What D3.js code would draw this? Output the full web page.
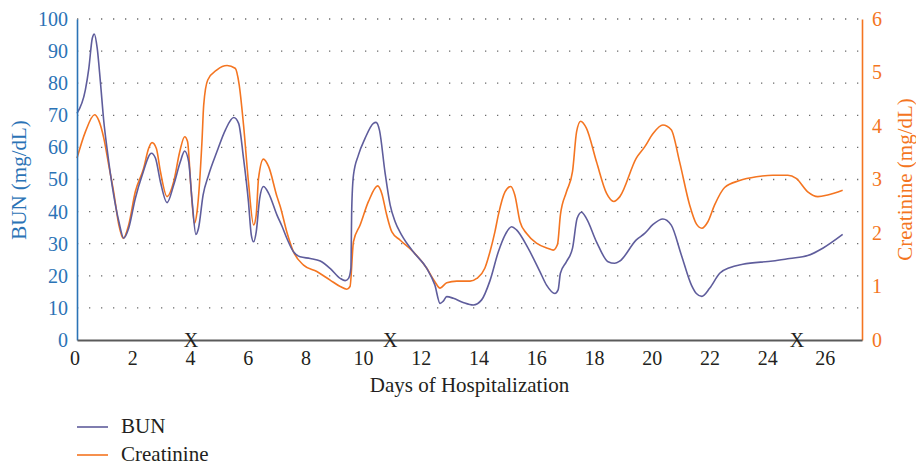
<!DOCTYPE html>
<html>
<head>
<meta charset="utf-8">
<script src="https://d3js.org/d3.v7.min.js"></script>
<style>
  body { margin: 0; background: #fff; }
  svg text { font-family: 'Liberation Serif', 'DejaVu Serif', serif; }
</style>
</head>
<body>
<div id="chart"></div>
<script>
// BUN readings (mg/dL) against day of stay
var bunDays = [0, 0.29, 0.41, 0.53, 0.6, 0.7, 0.81, 0.93, 1.04, 1.27, 1.45, 1.62, 1.79, 2.02, 2.26, 2.58, 2.72, 2.89,
    3.12, 3.35, 3.58, 3.73, 3.87, 3.99, 4.12, 4.21, 4.37, 4.56, 4.85, 5.14, 5.43, 5.6, 5.77, 5.94, 6.04, 6.12, 6.21,
    6.33, 6.46, 6.64, 6.93, 7.1, 7.27, 7.5, 7.73, 8.08, 8.43, 8.77, 9.12, 9.29, 9.41, 9.49, 9.52, 9.58, 9.75, 9.98,
    10.27, 10.36, 10.48, 10.67, 10.85, 11.02, 11.25, 11.65, 12.12, 12.4, 12.58, 12.69, 12.81, 13.04, 13.38, 13.73,
    14.02, 14.31, 14.6, 14.83, 15.06, 15.23, 15.63, 16.04, 16.27, 16.56, 16.67, 16.75, 16.96, 17.17, 17.33, 17.48,
    17.65, 18, 18.4, 18.63, 18.81, 19.38, 19.67, 19.96, 20.3, 20.59, 20.94, 21.29, 21.46, 21.65, 21.92, 22.27, 22.61,
    23.07, 24.11, 24.69, 25.32, 25.84, 26.53];
var bunValues = [70.6, 77.9, 84.6, 94, 95.3, 90.9, 80.5, 68, 59.7, 45.2, 36.9, 31.7, 34.8, 44.1, 51.4, 58.2, 56.6, 49.3,
    42.8, 48.3, 55.5, 58.9, 55.5, 43.1, 32.9, 34.8, 45.2, 51.4, 58.7, 65.4, 69.3, 67.5, 56.6, 43.1, 32.7, 30.6, 33.7,
    44.1, 47.8, 45.7, 38.9, 35.5, 31.7, 27.5, 25.9, 25.4, 24.6, 22.3, 19.2, 18.5, 19.2, 22.3, 41, 51.4, 57.6, 62.8,
    67.5, 67.8, 65.4, 52.4, 42.1, 36.9, 32.7, 27.5, 22.3, 17.1, 11.4, 12.1, 13.5, 13, 11.7, 10.9,
    12.5, 18.5, 27.5, 32.7, 35.3, 34.3, 28.6, 21.3, 17.1, 14.5, 15.6, 20.8, 24.4, 28.6, 37.9, 39.8,
    37.9, 30.6, 24.4, 23.9, 24.6, 31.2, 33.2, 36, 37.7, 35.8, 26.5, 17.1, 14.5, 13.6, 16.1, 20.8, 22.5,
    23.6, 24.6, 25.4, 26.3, 28.6, 32.9];

// creatinine readings (mg/dL)
var creatDays = [0, 0.29, 0.61, 0.75, 0.93, 1.1, 1.27, 1.45, 1.6, 1.79, 2.02, 2.31, 2.48, 2.6, 2.75, 2.89, 3.12, 3.35,
    3.56, 3.73, 3.83, 3.95, 4.07, 4.16, 4.33, 4.39, 4.53, 4.85, 5.2, 5.48, 5.62, 5.77, 5.94, 6.12, 6.21, 6.29, 6.46,
    6.64, 6.93, 7.04, 7.27, 7.5, 7.85, 8.31, 8.77, 9.12, 9.35, 9.46, 9.58, 9.81, 10.1, 10.42, 10.56, 10.73, 10.91,
    11.19, 11.65, 12.12, 12.4, 12.58, 12.81, 13.16, 13.62, 13.85, 14.13, 14.31, 14.48, 14.6, 14.83, 15.03, 15.17,
    15.35, 15.58, 15.92, 16.33, 16.5, 16.65, 16.75, 16.96, 17.17, 17.31, 17.45, 17.65, 18, 18.35, 18.6, 18.81, 19.38,
    19.67, 19.96, 20.3, 20.59, 20.88, 21.23, 21.46, 21.65, 21.86, 22.09, 22.44, 22.96, 23.54, 24.11, 24.63, 24.92,
    25.32, 25.67, 26.01, 26.53];
var creatValues = [3.4, 3.89, 4.21, 4.11, 3.77, 3.27, 2.77, 2.15, 1.9, 2.15, 2.77, 3.21, 3.58, 3.69, 3.58, 3.15, 2.68, 2.96,
    3.52, 3.8, 3.71, 2.84, 2.18, 2.4, 3.71, 4.39, 4.86, 5.05, 5.13, 5.08, 4.77, 4.02, 2.96, 2.15, 2.34, 3.02, 3.38,
    3.24, 2.68, 2.5, 2.02, 1.65, 1.4, 1.28, 1.12, 1, 0.95, 1, 1.84, 2.15, 2.59, 2.88, 2.74, 2.34, 2.02,
    1.87, 1.65, 1.34, 1.09, 0.97, 1.07, 1.1, 1.1, 1.15, 1.34, 1.65, 2.02, 2.34, 2.77, 2.87, 2.71,
    2.21, 1.99, 1.81, 1.71, 1.68, 1.79, 2.34, 2.77, 3.15, 3.89, 4.09, 3.96, 3.33, 2.74, 2.59, 2.68, 3.4,
    3.61, 3.86, 4.02, 3.93, 3.33, 2.52, 2.17, 2.09, 2.21, 2.52, 2.85, 2.98, 3.05, 3.08, 3.08, 3.02,
    2.77, 2.68, 2.71, 2.8];

// days marked with an X on the axis
var markDays = [3.95, 10.85, 24.95];

var xTicks     = d3.range(0, 27, 2),
    bunTicks   = d3.range(0, 101, 10),
    creatTicks = d3.range(0, 7, 1),
    seriesNames = ['BUN', 'Creatinine'];

var width   = 916,
    height  = 466,
    plotL   = 77,
    plotR   = 862,
    plotT   = 19,
    plotB   = 340,
    BLUE    = '#2b73b6',
    BUN_COLOR = '#5f5d9c',
    ORANGE  = '#f47521',
    INK     = '#231f20';

var svg = d3.select('#chart').append('svg')
    .attr('width', width)
    .attr('height', height);

svg.append('rect').attr('width', width).attr('height', height).attr('fill', '#fff');

var x  = d3.scaleLinear().domain([0, 27.2]).range([plotL, plotR]),
    yL = d3.scaleLinear().domain([0, 100]).range([plotB, plotT]),
    yR = d3.scaleLinear().domain([0, 6]).range([plotB, plotT]);

// dotted gridlines
svg.append('g')
    .selectAll('line')
    .data(bunTicks.slice(1))
    .enter()
    .append('line')
    .attr('x1', plotL)
    .attr('x2', plotR)
    .attr('y1', function(d) { return yL(d); })
    .attr('y2', function(d) { return yL(d); })
    .attr('stroke', '#6b6b6b')
    .attr('stroke-width', 1.3)
    .attr('stroke-dasharray', '1.3 10.7');

function drawSeries(days, values, scale, color) {
    var pts = days.map(function(d, i) { return [d, values[i]]; });
    var line = d3.line()
        .x(function(d) { return x(d[0]); })
        .y(function(d) { return scale(d[1]); })
        .curve(d3.curveMonotoneX);
    svg.append('path')
        .datum(pts)
        .attr('d', line)
        .attr('fill', 'none')
        .attr('stroke', color)
        .attr('stroke-width', 1.6)
        .attr('stroke-linejoin', 'round');
}

drawSeries(creatDays, creatValues, yR, ORANGE);
drawSeries(bunDays, bunValues, yL, BUN_COLOR);

// left axis
var gL = svg.append('g')
    .attr('transform', 'translate(' + plotL + ',0)')
    .call(d3.axisLeft(yL).tickValues(bunTicks).tickSize(0).tickPadding(9));
gL.select('.domain').attr('stroke', BLUE).attr('stroke-width', 1.6);
gL.selectAll('text').attr('fill', BLUE).style('font-size', '20px');

// right axis
var gR = svg.append('g')
    .attr('transform', 'translate(' + plotR + ',0)')
    .call(d3.axisRight(yR).tickValues(creatTicks).tickFormat(d3.format('d')).tickSize(0).tickPadding(10));
gR.select('.domain').attr('stroke', ORANGE).attr('stroke-width', 1.6);
gR.selectAll('text').attr('fill', ORANGE).style('font-size', '20px');

// bottom axis
var gB = svg.append('g')
    .attr('transform', 'translate(0,' + plotB + ')')
    .call(d3.axisBottom(x).tickValues(xTicks).tickSize(0).tickPadding(11));
gB.select('.domain').attr('stroke', '#5a5a5a').attr('stroke-width', 2.2);
gB.selectAll('text').attr('fill', INK).attr('dx', '-2.5').style('font-size', '20px');

svg.selectAll('text.mark')
    .data(markDays)
    .enter()
    .append('text')
    .attr('class', 'mark')
    .attr('x', function(d) { return x(d); })
    .attr('y', 347)
    .attr('text-anchor', 'middle')
    .attr('fill', INK)
    .style('font-size', '20px')
    .text('X');

// axis titles
svg.append('text')
    .attr('x', (plotL + plotR) / 2)
    .attr('y', 392)
    .attr('text-anchor', 'middle')
    .attr('fill', INK)
    .style('font-size', '21px')
    .text('Days of Hospitalization');

svg.append('text')
    .attr('transform', 'translate(26,180) rotate(-90)')
    .attr('text-anchor', 'middle')
    .attr('fill', BLUE)
    .style('font-size', '21px')
    .text('BUN (mg/dL)');

svg.append('text')
    .attr('transform', 'translate(912,179.5) rotate(-90)')
    .attr('text-anchor', 'middle')
    .attr('fill', ORANGE)
    .style('font-size', '21px')
    .text('Creatinine (mg/dL)');

// legend
var legend = svg.append('g').selectAll('g')
    .data(seriesNames)
    .enter()
    .append('g')
    .attr('transform', function(d, i) { return 'translate(77,' + (427 + i * 28) + ')'; });
legend.append('line')
    .attr('x1', 0)
    .attr('x2', 31)
    .attr('stroke', function(d, i) { return i ? ORANGE : BUN_COLOR; })
    .attr('stroke-width', 1.6);
legend.append('text')
    .attr('x', 44)
    .attr('y', 6)
    .attr('fill', INK)
    .style('font-size', '21px')
    .text(function(d) { return d; });
</script>
</body>
</html>
